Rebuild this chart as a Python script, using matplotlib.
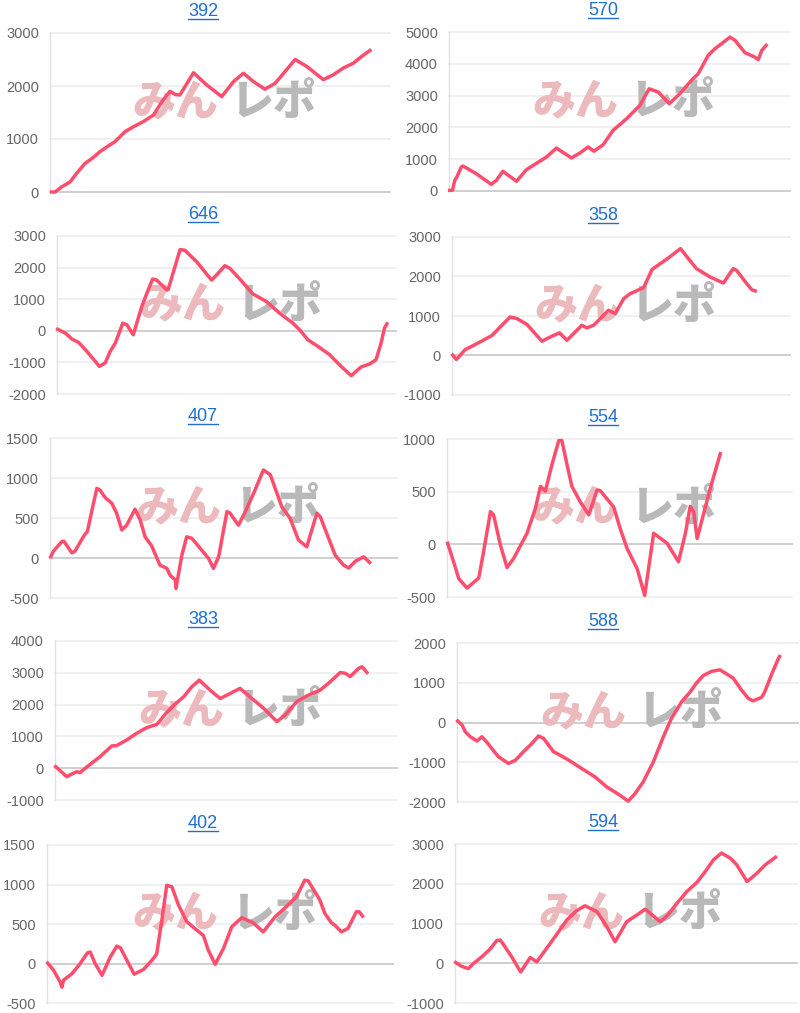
import matplotlib
matplotlib.use("Agg")
from matplotlib import pyplot as plt
from matplotlib.lines import Line2D

plt.rcParams['font.family'] = ['Liberation Sans', 'DejaVu Sans']

# machine numbers (panel titles)
titles = ["392", "570", "646", "358", "407", "554", "383", "588", "402", "594"]

# x: position along the axis (0-100), y: 差枚
x392 = [0.5, 1.5, 3.4, 5.9, 7.8, 10.3, 12.3, 14.7, 16.7, 19.1, 22.1, 24.5, 27.5, 30.4, 33.3, 35.3, 36.8, 38.2,
        42.2, 46.1, 50.5, 54.0, 56.9, 59.8, 63.2, 66.2, 69.1, 72.1, 75.5, 80.4, 83.3, 86.3, 89.2, 91.7, 94.1]
y392 = [0, 0, 95, 190, 350, 540, 630, 760, 850, 950, 1140, 1230, 1330, 1450, 1740, 1900, 1840, 1830,
        2250, 2020, 1800, 2085, 2240, 2085, 1940, 2050, 2270, 2500, 2370, 2120, 2210, 2340, 2430, 2560, 2670]

x570 = [0.2, 1.0, 1.7, 2.3, 3.6, 4.1, 5.1, 8.0, 12.4, 13.9, 15.8, 19.8, 22.7, 24.7, 28.6, 31.5, 35.9, 38.4, 40.8, 42.5,
        45.2, 48.1, 52.1, 56.0, 58.7, 61.4, 64.6, 67.7, 71.1, 73.1, 76.0, 78.0, 79.9, 82.4, 83.9, 86.8, 89.7, 90.7,
        91.7, 93.0]
y570 = [20, 20, 335, 440, 755, 785, 725, 545, 210, 335, 620, 305, 670, 805, 1070, 1350, 1040, 1195, 1385, 1250,
        1455, 1905, 2275, 2695, 3215, 3110, 2745, 3060, 3480, 3690, 4265, 4475, 4630, 4840, 4735, 4350, 4210, 4130,
        4420, 4580]

x646 = [0.2, 2.5, 4.4, 6.4, 8.8, 12.5, 14.2, 15.7, 17.2, 19.4, 20.6, 22.5, 25.0, 26.5, 28.2, 29.4, 32.4, 32.8, 36.3,
        37.7, 41.2, 45.6, 47.5, 49.5, 51.0, 53.9, 57.8, 61.8, 65.7, 69.6, 71.6, 74.0, 77.0, 80.4, 83.8, 86.8, 89.7,
        92.2, 94.1, 95.6, 96.6, 97.3]
y646 = [50, -75, -260, -370, -650, -1125, -1020, -650, -390, 240, 190, -125, 765, 1185, 1640, 1605, 1290, 1310, 2570,
        2550, 2185, 1605, 1815, 2060, 1975, 1640, 1165, 925, 555, 240, 30, -285, -495, -755, -1125, -1420, -1145,
        -1050, -915, -390, 85, 220]

x358 = [0.2, 1.3, 3.9, 5.9, 8.9, 11.8, 14.3, 17.2, 19.2, 22.2, 26.6, 29.1, 31.8, 34.0, 36.0, 38.4, 39.9, 41.9, 46.3,
        48.3, 50.8, 52.7, 56.7, 59.2, 63.7, 67.6, 72.3, 76.4, 80.3, 83.2, 84.2, 87.2, 88.7, 89.7]
y358 = [10, -100, 150, 235, 370, 505, 725, 975, 935, 785, 360, 470, 575, 385, 555, 765, 700, 765, 1145,
        1060, 1440, 1565, 1720, 2180, 2450, 2705, 2200, 1985, 1835, 2200, 2155, 1820, 1665, 1635]

x407 = [0.2, 1.0, 3.4, 4.0, 6.3, 7.2, 9.6, 10.8, 12.0, 13.5, 14.4, 15.9, 17.8, 19.2, 20.7, 22.1, 24.5, 26.0, 27.4,
        29.3, 31.7, 33.7, 34.6, 36.1, 36.3, 38.0, 39.4, 40.9, 43.3, 45.7, 47.1, 48.6, 51.0, 51.9, 54.3, 56.3, 58.7,
        61.5, 63.5, 64.9, 66.8, 69.2, 71.6, 74.0, 76.9, 77.9, 80.3, 82.2, 84.6, 86.1, 88.0, 90.4, 92.1]
y407 = [15, 85, 205, 210, 65, 85, 265, 335, 580, 870, 850, 755, 685, 560, 350, 410, 610, 475, 265,
        150, -90, -130, -215, -275, -380, 35, 265, 245, 120, -5, -130, 15, 580, 560, 410, 580, 810,
        1100, 1040, 870, 640, 495, 225, 140, 560, 515, 245, 35, -90, -125, -40, 15, -55]

x554 = [0.2, 1.9, 3.4, 5.8, 9.2, 10.6, 12.6, 13.5, 15.5, 17.4, 19.3, 23.2, 25.6, 27.1, 28.5, 30.4, 32.4, 33.3, 34.8,
        36.2, 38.6, 41.1, 43.5, 44.4, 48.3, 50.2, 52.2, 55.1, 57.3, 59.9, 63.8, 67.1, 69.1, 70.5, 71.5, 72.5, 73.9,
        76.3, 79.2]
y554 = [10, -165, -325, -415, -320, -70, 310, 280, -10, -220, -135, 105, 340, 550, 505, 755, 985, 985, 755,
        550, 405, 280, 515, 510, 355, 150, -40, -230, -485, 105, 10, -165, 105, 360, 310, 55, 230,
        530, 860]

x383 = [0.2, 3.4, 6.3, 7.3, 10.2, 13.2, 16.6, 18.0, 21.0, 23.9, 26.8, 29.8, 32.2, 34.6, 37.6, 40.0, 42.2, 45.4, 48.3,
        51.2, 54.1, 57.6, 61.0, 64.9, 67.3, 70.7, 74.1, 77.6, 80.5, 83.4, 84.9, 86.3, 88.8, 89.8, 91.2]
y383 = [50, -265, -110, -140, 115, 365, 700, 710, 890, 1100, 1275, 1380, 1695, 1965, 2245, 2560, 2770, 2450, 2190,
        2350, 2510, 2190, 1885, 1465, 1675, 2095, 2300, 2460, 2720, 3010, 2985, 2880, 3140, 3190, 3010]

x588 = [0.2, 1.5, 2.4, 3.9, 5.9, 7.3, 8.8, 10.2, 12.2, 15.1, 17.1, 19.5, 22.0, 23.9, 25.4, 28.3, 30.2, 33.2, 36.6,
        40.5, 43.9, 47.8, 50.2, 52.2, 54.6, 57.6, 60.5, 62.9, 65.9, 68.3, 70.2, 72.2, 74.6, 77.1, 79.0, 81.0, 83.4,
        85.4, 86.8, 89.3, 90.2, 92.2, 94.1, 94.6]
y588 = [40, -65, -230, -360, -465, -360, -500, -655, -865, -1030, -950, -735, -525, -340, -400, -735, -820, -970, -1160,
        -1370, -1620, -1830, -1980, -1790, -1495, -990, -360, 105, 525, 760, 990, 1180, 1285, 1325, 1225, 1115, 820,
        610, 545, 630, 760, 1200, 1580, 1660]

x402 = [0.2, 1.9, 3.8, 4.3, 4.8, 7.2, 9.6, 11.7, 12.5, 13.9, 15.9, 18.3, 20.2, 21.2, 23.1, 25.2, 27.9, 30.3, 31.7,
        33.2, 34.6, 36.1, 38.0, 40.4, 42.8, 45.2, 46.6, 48.6, 51.0, 53.4, 56.3, 59.6, 62.5, 65.9, 69.2, 72.1, 74.5,
        75.5, 78.8, 80.3, 82.2, 83.2, 85.1, 87.0, 89.4, 90.2, 91.2]
y402 = [5, -85, -235, -300, -210, -130, 0, 135, 145, 0, -150, 85, 220, 200, 40, -135, -75, 40, 120,
        550, 990, 970, 740, 530, 440, 355, 170, -10, 190, 465, 580, 515, 400, 590, 720, 845, 1055,
        1045, 810, 635, 515, 485, 400, 445, 655, 655, 600]

x594 = [0.2, 1.9, 3.9, 5.4, 7.8, 10.2, 12.2, 13.2, 14.1, 16.6, 19.2, 20.5, 22.0, 22.9, 23.9, 26.8, 29.8, 32.7, 35.6,
        38.0, 41.5, 44.4, 46.8, 50.2, 53.2, 55.6, 58.0, 60.0, 62.0, 64.9, 67.8, 70.7, 73.2, 75.6, 77.9, 80.5, 82.4,
        85.4, 88.3, 90.7, 93.7]
y594 = [20, -75, -135, -5, 160, 350, 570, 585, 480, 160, -220, -50, 145, 95, 35, 375, 735, 1090, 1325,
        1445, 1300, 920, 540, 1045, 1215, 1360, 1190, 1045, 1190, 1510, 1805, 2030, 2310, 2605, 2770, 2645, 2475,
        2055, 2265, 2475, 2665]

xs = [x392, x570, x646, x358, x407, x554, x383, x588, x402, x594]
ys = [y392, y570, y646, y358, y407, y554, y383, y588, y402, y594]
ylims = [(0, 3000), (0, 5000), (-2000, 3000), (-1000, 3000), (-500, 1500),
         (-500, 1000), (-1000, 4000), (-2000, 2000), (-500, 1500), (-1000, 3000)]
ysteps = [1000, 1000, 1000, 1000, 500, 500, 1000, 1000, 500, 1000]

# plot area boxes in pixels: left, right, top, bottom
boxes = [(50, 390, 33, 192), (449, 790, 32, 191),
         (57, 396, 236, 394), (452, 790, 237, 395),
         (50, 397, 438, 598), (447, 792, 439, 597),
         (55, 397, 641, 800), (457, 798, 643, 802),
         (47, 393, 845, 1003), (455, 797, 844, 1003)]

W, H = 800, 1013
fig = plt.figure(figsize=(W / 100, H / 100), dpi=100)

LINE = '#ff4d6d'
LINK = '#1f6fd1'
CJK = ['Noto Sans CJK JP', 'DejaVu Sans']
title_texts = []
for i in range(10):
    l, r, t, b = boxes[i]
    ax = fig.add_axes([l / W, 1 - b / H, (r - l) / W, (b - t) / H])
    lo, hi = ylims[i]
    ax.set_ylim(lo, hi)
    ax.set_xlim(0, 100)
    ticks = list(range(lo, hi + 1, ysteps[i]))
    ax.set_yticks(ticks)
    ax.set_yticklabels([str(v) for v in ticks])
    ax.set_xticks([])
    for v in ticks:
        if v == 0:
            ax.axhline(v, color='#cfcfcf', lw=1.4, zorder=1, clip_on=False)
        else:
            ax.axhline(v, color='#ececec', lw=1.1, zorder=1, clip_on=False)
    for s in ['top', 'right', 'bottom']:
        ax.spines[s].set_visible(False)
    ax.spines['left'].set_color('#e2e2e2')
    ax.spines['left'].set_linewidth(1.0)
    ax.tick_params(axis='y', length=0, pad=8, labelsize=10.5, labelcolor='#666666')

    # watermark
    ax.text(0.37, 0.565, 'みん', transform=ax.transAxes, ha='center', va='center',
            fontsize=31, fontweight='heavy', color='#ecb9bd', family=CJK, zorder=2)
    ax.text(0.656, 0.565, 'レポ', transform=ax.transAxes, ha='center', va='center',
            fontsize=31, fontweight='heavy', color='#b9b9b9', family=CJK, zorder=2)

    ax.plot(xs[i], ys[i], color=LINE, lw=2.5, solid_joinstyle='round', zorder=3, clip_on=False)

    col = i % 2
    tt = fig.text((col * 400 + 203) / W, 1 - (t - 21.5) / H, titles[i],
                  ha='center', va='center', fontsize=13, color=LINK)
    title_texts.append(tt)

# underline the titles (they are links)
fig.canvas.draw()
renderer = fig.canvas.get_renderer()
for tt in title_texts:
    bb = tt.get_window_extent(renderer)
    yline = (bb.y0 + 1) / H
    fig.add_artist(Line2D([bb.x0 / W, bb.x1 / W], [yline, yline], color=LINK, lw=1.0))

fig.savefig('out.png', dpi=100)
